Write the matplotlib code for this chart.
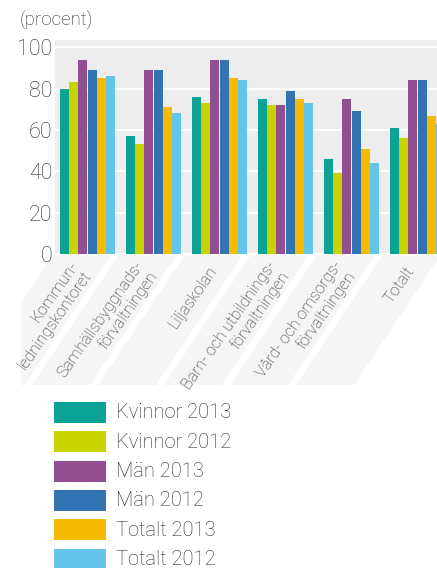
import matplotlib.pyplot as plt
import matplotlib.transforms as mtransforms
from matplotlib.patches import Polygon, Rectangle
import numpy as np

plt.rcParams['font.family'] = ['Roboto', 'DejaVu Sans']
plt.rcParams['font.weight'] = 'light'

categories = ['Kommun-\nledningskontoret', 'Samhällsbyggnads-\nförvaltningen', 'Liljaskolan',
              'Barn- och utbildnings-\nförvaltningen', 'Vård- och omsorgs-\nförvaltningen', 'Totalt']
kvinnor_2013 = [80, 57, 76, 75, 46, 61]
kvinnor_2012 = [83, 53, 73, 72, 39, 56]
man_2013 = [94, 89, 94, 72, 75, 84]
man_2012 = [89, 89, 94, 79, 69, 84]
totalt_2013 = [85, 71, 85, 75, 51, 67]
totalt_2012 = [86, 68, 84, 73, 44, 63]
series = ['Kvinnor 2013', 'Kvinnor 2012', 'Män 2013', 'Män 2012', 'Totalt 2013', 'Totalt 2012']
values = [kvinnor_2013, kvinnor_2012, man_2013, man_2012, totalt_2013, totalt_2012]
colors = ['#0ba396', '#c8d400', '#914e91', '#3273b4', '#f6bb00', '#64c5eb']
txt = '#2a2a2a'

W, H = 437, 568
fig = plt.figure(figsize=(W / 100, H / 100), dpi=100)

def fx(px):
    return px / W

def fy(py):
    return 1 - py / H

# axes placed in pixels, runs past the right edge like the cropped original
ax_left, ax_top, ax_bottom, ax_right = 55, 39.5, 254, 500
ax = fig.add_axes([fx(ax_left), fy(ax_bottom), fx(ax_right - ax_left), (ax_bottom - ax_top) / H])
ax.set_facecolor('#ecedec')
for s in ax.spines.values():
    s.set_visible(False)

gs = 66.0  # px per group
x = np.arange(len(categories))
bw = 9.0 / gs
step = 9.15 / gs
for k, (vals, c) in enumerate(zip(values, colors)):
    ax.bar(x + (k - 2.5) * step, vals, width=bw, color=c, linewidth=0, zorder=3)

ax.set_xlim((ax_left - 87.5) / gs, (ax_right - 87.5) / gs)
ax.set_ylim(0, 100 * (ax_bottom - ax_top) / (ax_bottom - 47.3))
ax.set_yticks([0, 20, 40, 60, 80, 100])
ax.yaxis.grid(True, color='white', linewidth=1.6, zorder=1)
ax.set_axisbelow(True)
ax.tick_params(axis='y', length=0, pad=2, labelsize=15.5, labelcolor=txt)
ax.set_xticks([])

fig.text(fx(20), fy(21), '(procent)', fontsize=13.5, color=txt, ha='left', va='center')

# slanted label bands
shift = 86
for i in range(len(categories)):
    tl, tr = 52 + gs * i, 110 + gs * i
    if tl - shift < 21:
        yc = 256 + (tl - 21) / shift * 129
        pts = [(tl, 256), (tr, 256), (max(tr - shift, 21), 385), (21, 385), (21, yc)]
    else:
        pts = [(tl, 256), (tr, 256), (tr - shift, 385), (tl - shift, 385)]
    poly = Polygon([(fx(a), fy(b)) for a, b in pts], closed=True, transform=fig.transFigure,
                   facecolor='#f5f5f5', edgecolor='none', zorder=0)
    fig.add_artist(poly)

trans = mtransforms.blended_transform_factory(ax.transData, fig.transFigure)
for i, lab in enumerate(categories):
    ax.text(i - 6 / gs, fy(268), lab, transform=trans, rotation=55, rotation_mode='anchor',
            ha='right', va='center', multialignment='right', fontsize=11.5,
            color=txt, clip_on=False, linespacing=1.1)

# legend
for k, (name, c) in enumerate(zip(series, colors)):
    top = 402 + 29.3 * k
    fig.add_artist(Rectangle((fx(54), fy(top + 21)), fx(52), 21 / H, transform=fig.transFigure,
                             facecolor=c, edgecolor='none'))
    fig.text(fx(116), fy(top + 11), name, fontsize=14.5, color=txt, ha='left', va='center')

fig.savefig('out.png', dpi=100)
